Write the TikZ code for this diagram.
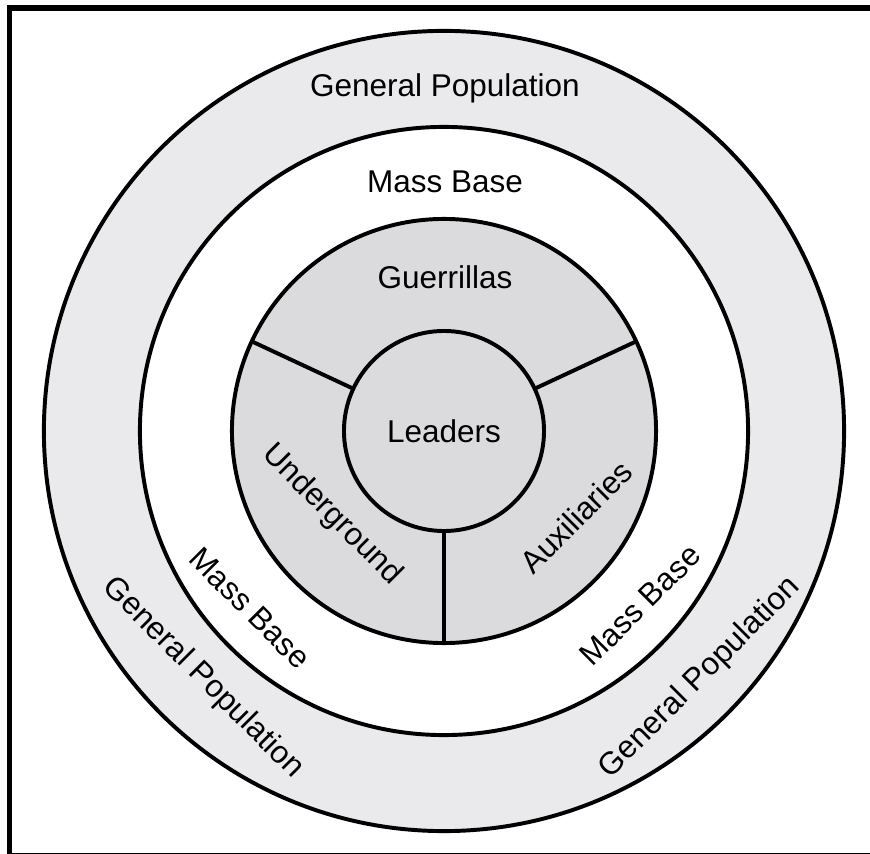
\documentclass[tikz,border=0pt]{standalone}
\usepackage{fontspec}
\setmainfont{Liberation Sans}
\usepackage{tikz}
\definecolor{ringgray}{RGB}{234,234,236}
\definecolor{cellgray}{RGB}{219,219,221}
\tikzset{
  ring/.style={circle, draw=black, line width=2.8pt, inner sep=0pt, outer sep=0pt},
  lbl/.style={font=\fontsize{22.4}{26}\selectfont, inner sep=0pt},
  divider/.style={line width=2.8pt},
}

\begin{document}
\begin{tikzpicture}[x=0.025cm, y=0.025cm]
\useasboundingbox (-444,-423) rectangle (426,431);
% frame
\draw[line width=3.6pt, line join=miter] (-434.5,-423) -- (-434.5,423) -- (426,423);
\draw[line width=0.7pt] (-437,-422.3) -- (426,-422.3);
% rings
\node (gpop) [ring, fill=ringgray, minimum size=20cm] at (0,0) {};
\node (mass) [ring, fill=white, minimum size=15.2cm] at (0,0) {};
\node (cell) [ring, fill=cellgray, minimum size=10.6cm] at (0,0) {};
\node (lead) [ring, fill=cellgray, minimum size=5cm, lbl] at (0,0) {Leaders};
\draw[divider] (lead.25) -- (cell.25);
\draw[divider] (lead.155) -- (cell.155);
\draw[divider] (lead.270) -- (cell.270);
% labels
\node (gpopT) [lbl] at (1,343) {General Population};
\node (massT) [lbl] at (1,249) {Mass Base};
\node (guer) [lbl] at (1,154) {Guerrillas};
\node (under) [lbl, rotate=-45] at (-112,-84) {Underground};
\node (aux) [lbl, rotate=45] at (132,-86) {Auxiliaries};
\node (massL) [lbl, rotate=-45] at (-194,-177) {Mass Base};
\node (massR) [lbl, rotate=45] at (196,-174) {Mass Base};
\node (gpopL) [lbl, rotate=-45] at (-241,-247) {General Population};
\node (gpopR) [lbl, rotate=45] at (256,-247) {General Population};
\end{tikzpicture}
\end{document}
